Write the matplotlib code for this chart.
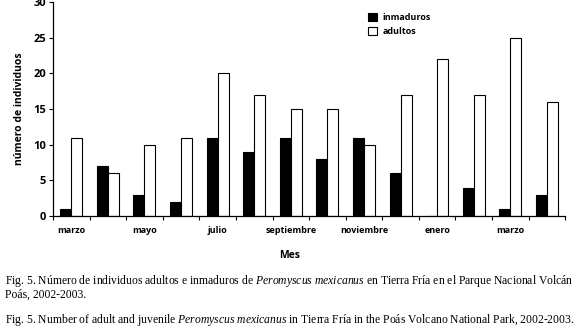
import numpy as np
import matplotlib.pyplot as plt

plt.rcParams['mathtext.fontset'] = 'custom'
plt.rcParams['mathtext.it'] = 'Liberation Serif:italic'
plt.rcParams['mathtext.rm'] = 'Liberation Serif'

# months March 2002 - April 2003
meses = ['marzo', 'abril', 'mayo', 'junio', 'julio', 'agosto', 'septiembre',
         'octubre', 'noviembre', 'diciembre', 'enero', 'febrero', 'marzo', 'abril']
inmaduros = [1, 7, 3, 2, 11, 9, 11, 8, 11, 6, 0, 4, 1, 3]
adultos = [11, 6, 10, 11, 20, 17, 15, 15, 10, 17, 22, 17, 25, 16]

sans = ['Open Sans', 'DejaVu Sans']
serif = ['Liberation Serif', 'DejaVu Serif']

fig = plt.figure(figsize=(5.8, 3.33), dpi=100)
ax = fig.add_axes([0.0914, 0.351, 0.883, 0.643])

x = np.arange(len(meses))
w = 0.3
ax.bar(x - w / 2, inmaduros, w, color='black', edgecolor='black', linewidth=0.8, label='inmaduros')
ax.bar(x + w / 2, adultos, w, color='white', edgecolor='black', linewidth=0.8, label='adultos')

ax.set_xlim(-0.5, len(meses) - 0.5)
ax.set_ylim(0, 30)
ax.set_yticks(range(0, 31, 5))
ax.set_xticks(np.arange(-0.5, len(meses), 1), minor=True)
ax.set_xticks(x[::2])
ax.set_xticklabels(meses[::2])
ax.tick_params(axis='x', which='major', length=0, pad=7)
ax.tick_params(axis='x', which='minor', length=3, width=0.8, direction='out')
ax.tick_params(axis='y', length=3, width=0.8, direction='out', pad=2)
for lab in ax.get_xticklabels() + ax.get_yticklabels():
    lab.set_family(sans)
    lab.set_fontweight('bold')
for lab in ax.get_xticklabels():
    lab.set_fontsize(6.5)
for lab in ax.get_yticklabels():
    lab.set_fontsize(8)

ax.spines['top'].set_visible(False)
ax.spines['right'].set_visible(False)
ax.spines['left'].set_linewidth(0.9)
ax.spines['bottom'].set_linewidth(0.9)

ax.set_ylabel('número de individuos', family=sans, fontweight='bold', fontsize=7.5, labelpad=6)

leg = fig.legend(loc='upper left', bbox_to_anchor=(0.62, 0.985), frameon=False,
                 prop={'family': sans, 'weight': 'bold', 'size': 6.5},
                 handlelength=1.0, handleheight=1.0, handletextpad=0.6, labelspacing=0.5)

fig.text(0.5, 0.233, 'Mes', ha='center', va='center', family=sans, fontweight='bold', fontsize=7.5)

fig.text(0.008, 0.155, 'Fig. 5. Número de individuos adultos e inmaduros de $\\it{Peromyscus\\ mexicanus}$ en Tierra Fría en el Parque Nacional Volcán',
         ha='left', va='center', family=serif, fontsize=8.4)
fig.text(0.008, 0.115, 'Poás, 2002-2003.', ha='left', va='center', family=serif, fontsize=8.4)
fig.text(0.008, 0.038, 'Fig. 5. Number of adult and juvenile $\\it{Peromyscus\\ mexicanus}$ in Tierra Fría in the Poás Volcano National Park, 2002-2003.',
         ha='left', va='center', family=serif, fontsize=8.4)

fig.savefig('out.png', dpi=100)
